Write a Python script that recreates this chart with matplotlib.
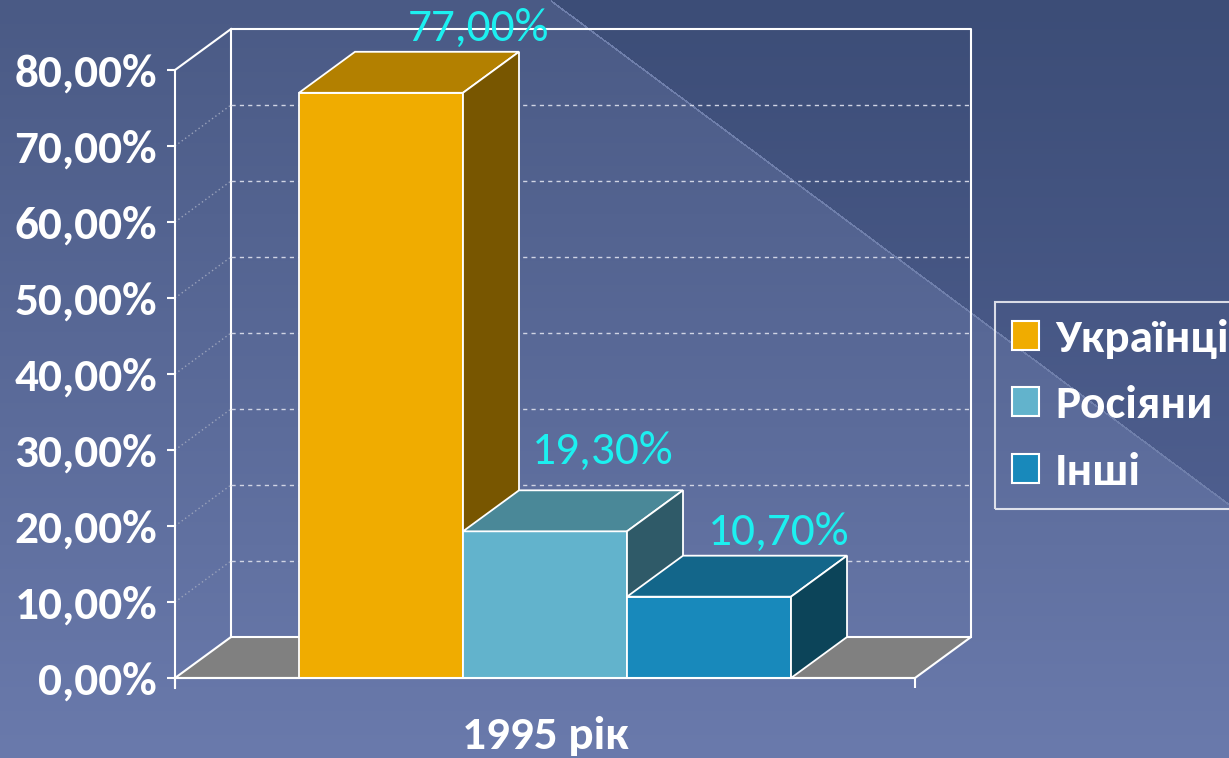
import numpy as np
import matplotlib
matplotlib.use('Agg')
import matplotlib.pyplot as plt
from matplotlib.patches import Polygon, Patch
from matplotlib import font_manager

# дані
groups = ['Українці', 'Росіяни', 'Інші']
shares = [77.0, 19.3, 10.7]
year_label = '1995 рік'
y_ticks = [0, 10, 20, 30, 40, 50, 60, 70, 80]

front_cols = ['#f0ac00', '#62b3cc', '#1889bb']
top_cols = ['#b38000', '#4a8898', '#13668a']
side_cols = ['#785600', '#2f5a68', '#0c4459']

names = {f.name for f in font_manager.fontManager.ttflist}
fam = 'Carlito' if 'Carlito' in names else 'Lato'
plt.rcParams['font.family'] = [fam, 'DejaVu Sans']

W, H = 1229, 758
fig = plt.figure(figsize=(W / 100, H / 100), dpi=100)

# фон: вертикальний градієнт + темніший трикутник справа вгорі
yy, xx = np.mgrid[0:H, 0:W].astype(float)
def hexc(h):
    return np.array([int(h[i:i + 2], 16) for i in (1, 3, 5)]) / 255.0
def lerp(c1, c2, t):
    return hexc(c1) + (hexc(c2) - hexc(c1)) * t[..., None]
low = lerp('#4a5a85', '#6a7aac', yy / H)
up = lerp('#3c4d77', '#4e5e8e', np.clip(yy / 505, 0, 1))
diag = (xx - 550) * 0.743
img = np.where((yy < diag)[..., None], up, low)
line = (np.abs(yy - diag) < 1.1) & (xx > 550)
img[line] = hexc('#6f7fab')
bg = fig.add_axes([0, 0, 1, 1])
bg.imshow(img, aspect='auto', interpolation='bilinear')
bg.axis('off')

# основна вісь
ax = fig.add_axes([175 / W, (H - 678) / H, 740 / W, 608 / H])
ax.set_zorder(2)
ax.patch.set_alpha(0)
xmax = 4.512
ax.set_xlim(0, xmax)
ax.set_ylim(0, 80)
dx, dy = 56 / 164, 41 / 7.6
gap = 0.756

# підлога і стіни
ax.add_patch(Polygon([(0, 0), (xmax, 0), (xmax + dx, dy), (dx, dy)], closed=True,
                     facecolor='#808080', edgecolor='white', lw=1.5, clip_on=False, zorder=1))
ax.plot([dx, dx, xmax + dx, xmax + dx], [dy, 80 + dy, 80 + dy, dy], color='white', lw=1.5,
        clip_on=False, zorder=1)
ax.plot([0, dx], [80, 80 + dy], color='white', lw=1.5, clip_on=False, zorder=1)
for v in y_ticks[1:-1]:
    ax.plot([dx, xmax + dx], [v + dy, v + dy], color='#d0d4e4', ls=(0, (3, 3)), lw=1,
            clip_on=False, zorder=1)
    ax.plot([0, dx], [v, v + dy], color='#9aa2bb', ls=(0, (1, 2)), lw=1, clip_on=False, zorder=1)

# стовпчики
xl = [gap + i for i in range(len(shares))]
bars = ax.bar(xl, shares, width=1, align='edge', color=front_cols, edgecolor='white', lw=1.3)
lbl_off = [(41, 23), (2, 39), (14, 23)]
for i, (x0, v) in enumerate(zip(xl, shares)):
    z = 3 + i
    bars[i].set_zorder(z)
    ax.add_patch(Polygon([(x0, v), (x0 + 1, v), (x0 + 1 + dx, v + dy), (x0 + dx, v + dy)],
                         closed=True, facecolor=top_cols[i], edgecolor='white', lw=1.3,
                         clip_on=False, zorder=z))
    ax.add_patch(Polygon([(x0 + 1, 0), (x0 + 1, v), (x0 + 1 + dx, v + dy), (x0 + 1 + dx, dy)],
                         closed=True, facecolor=side_cols[i], edgecolor='white', lw=1.3,
                         clip_on=False, zorder=z))
    ax.annotate(f'{v:.2f}%'.replace('.', ','), xy=(x0 + 0.5 + dx, v + dy),
                xytext=lbl_off[i], textcoords='offset pixels', ha='center', va='center',
                color='#1cf0f0', fontsize=34, zorder=10, annotation_clip=False)

# осі
for s in ['top', 'right']:
    ax.spines[s].set_visible(False)
ax.spines['left'].set_color('white')
ax.spines['left'].set_linewidth(1.5)
ax.spines['left'].set_bounds(-1.3, 80)
ax.spines['bottom'].set_color('white')
ax.spines['bottom'].set_linewidth(1.5)
ax.spines['left'].set_zorder(2)
ax.spines['bottom'].set_zorder(8)
ax.set_yticks(y_ticks, [f'{t:.2f}%'.replace('.', ',') for t in y_ticks])
ax.tick_params(axis='y', colors='white', length=6, width=1.5, pad=7, labelsize=34)
ax.set_xticks([xmax / 2], [year_label])
ax.set_xticks([0, xmax], minor=True)
ax.tick_params(axis='x', which='major', length=0, pad=27, labelsize=34, labelcolor='white')
ax.tick_params(axis='x', which='minor', length=7, width=1.5, color='white')
for lb in ax.get_yticklabels() + ax.get_xticklabels():
    lb.set_fontweight('bold')

# легенда
handles = [Patch(facecolor=c, edgecolor='white', lw=1.5) for c in front_cols]
leg = fig.legend(handles, groups, loc='upper left', bbox_to_anchor=(995 / W, 1 - 302 / H),
                 borderaxespad=0, frameon=True, fancybox=False, facecolor='none',
                 edgecolor='white', fontsize=34, labelcolor='white', handlelength=0.57,
                 handleheight=0.57, handletextpad=0.34, borderpad=0.36, labelspacing=0.56)
leg.get_frame().set_linewidth(1.5)
for t in leg.get_texts():
    t.set_fontweight('bold')

fig.savefig('out.png', dpi=100)
